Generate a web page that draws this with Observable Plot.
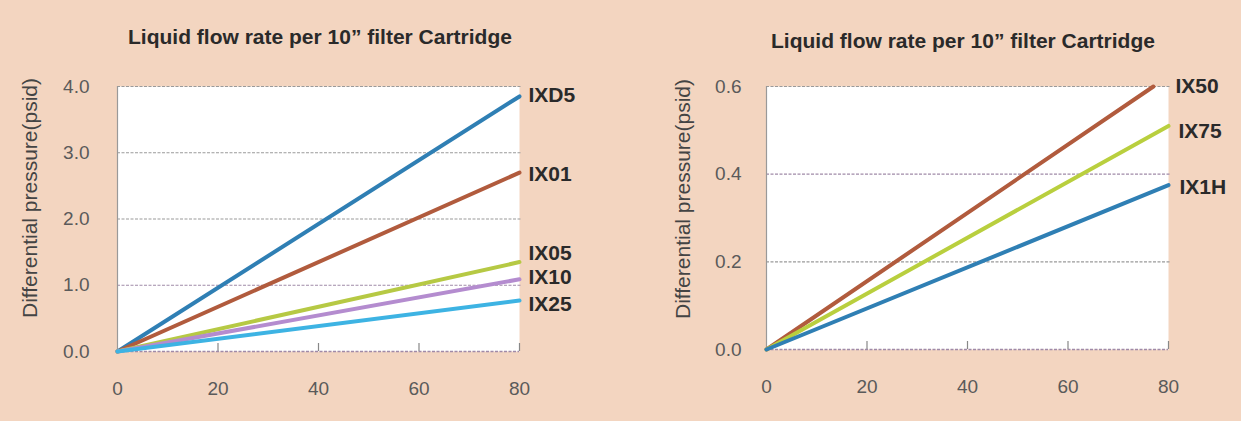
<!DOCTYPE html>
<html>
<head>
<meta charset="utf-8">
<script src="https://cdn.jsdelivr.net/npm/d3@7"></script>
<script src="https://cdn.jsdelivr.net/npm/@observablehq/plot@0.6"></script>
<style>
  html, body { margin: 0; padding: 0; }
  body { width: 1241px; height: 421px; background: #f3d5c0; position: relative; overflow: hidden; font-family: "Liberation Sans", Arial, sans-serif; }
  .title { position: absolute; font-weight: bold; font-size: 21px; color: #2a2a2a; white-space: nowrap; transform: translate(-50%, -50%); }
  .panel { position: absolute; top: 0; }
</style>
</head>
<body>
<div class="title" style="left:320px; top:37px;">Liquid flow rate per 10” filter Cartridge</div>
<div class="title" style="left:963px; top:41px;">Liquid flow rate per 10” filter Cartridge</div>
<div id="left" class="panel" style="left:0px;"></div>
<div id="right" class="panel" style="left:620px;"></div>
<script>
// ---- Data ----
const yTitle = "Differential pressure(psid)";
const xTicks = [0, 20, 40, 60, 80];

// Left chart
const leftSeries = ["IXD5", "IX01", "IX05", "IX10", "IX25"];
const leftFlow = [[0, 80], [0, 80], [0, 80], [0, 80], [0, 80]];
const leftPressure = [[0, 3.85], [0, 2.70], [0, 1.35], [0, 1.09], [0, 0.77]];
const leftYTicks = [0, 1, 2, 3, 4];

// Right chart
const rightSeries = ["IX50", "IX75", "IX1H"];
const rightFlow = [[0, 77], [0, 80], [0, 80]];
const rightPressure = [[0, 0.60], [0, 0.51], [0, 0.375]];
const rightYTicks = [0, 0.2, 0.4, 0.6];

// ---- Styles ----
const colors = {
  IXD5: "#2f7fb4", IX01: "#b15b3d", IX05: "#b6c944", IX10: "#b48ccf", IX25: "#3db3e3",
  IX50: "#b15b3d", IX75: "#b9cf3e", IX1H: "#2f7fb4"
};
const labelOffset = {
  IXD5: [9, -1], IX01: [9, 2], IX05: [9, -9], IX10: [9, -2], IX25: [9, 4],
  IX50: [22, 0], IX75: [10, 5], IX1H: [11, 2]
};

function rows(series, flow, pressure) {
  const out = [];
  series.forEach((s, i) => flow[i].forEach((f, j) => out.push({series: s, flow: f, pressure: pressure[i][j]})));
  return out;
}

function chart({series, flow, pressure, yTicks, yDomain, width, height, margins, gridColors, yTitleDx, yTitleDy, xLabelPad, yLabelPad}) {
  const data = rows(series, flow, pressure);
  const ends = series.map((s, i) => ({series: s, flow: flow[i][flow[i].length - 1], pressure: pressure[i][pressure[i].length - 1]}));
  const plotH = height - margins.top - margins.bottom;
  return Plot.plot({
    width, height,
    marginTop: margins.top, marginBottom: margins.bottom, marginLeft: margins.left, marginRight: margins.right,
    style: {background: "transparent", fontFamily: "Liberation Sans, Arial, sans-serif", overflow: "visible"},
    x: {domain: [0, 80]},
    y: {domain: yDomain},
    marks: [
      Plot.frame({fill: "white", stroke: "none"}),
      // grid lines
      ...yTicks.slice(1).map((t, i) => Plot.ruleY([t], {stroke: gridColors[i], strokeWidth: 1.2, strokeDasharray: "3,1.5", insetRight: -3})),
      // bottom axis line
      Plot.ruleY([yDomain[0]], {stroke: "#a08aa8", strokeWidth: 1.3, strokeDasharray: "3,1.5"}),
      // left border
      Plot.ruleX([0], {stroke: "#999", strokeWidth: 1.2}),
      // inner ticks
      Plot.ruleX(xTicks.slice(1), {stroke: "#888", strokeWidth: 1.2, insetTop: plotH - 8}),
      Plot.axisY({ticks: yTicks, tickSize: 0, tickPadding: yLabelPad, tickFormat: d3.format(".1f"), fontSize: 19, fill: "#5a5a5a", label: null}),
      Plot.axisX({ticks: xTicks, tickSize: 0, tickPadding: xLabelPad, tickFormat: d3.format("d"), fontSize: 19, fill: "#5a5a5a", label: null}),
      Plot.text([yTitle], {frameAnchor: "left", textAnchor: "middle", rotate: -90, dx: yTitleDx, dy: yTitleDy, fontSize: 21, fill: "#444"}),
      Plot.line(data, {x: "flow", y: "pressure", z: "series", stroke: d => colors[d.series], strokeWidth: 4, strokeLinecap: "round"}),
      ...ends.map(e => Plot.text([e], {x: "flow", y: "pressure", text: "series", textAnchor: "start", dx: labelOffset[e.series][0], dy: labelOffset[e.series][1], fontSize: 21, fontWeight: "bold", fill: "#2a2a2a"}))
    ]
  });
}

document.getElementById("left").appendChild(chart({
  series: leftSeries, flow: leftFlow, pressure: leftPressure, yTicks: leftYTicks, yDomain: [0, 4],
  width: 620, height: 421, margins: {top: 86, bottom: 70, left: 117, right: 101},
  gridColors: ["#a08aa8", "#9a9a9a", "#9a9a9a", "#9a9a9a"], yTitleDx: -87, yTitleDy: -21, xLabelPad: 30, yLabelPad: 28
}));
document.getElementById("right").appendChild(chart({
  series: rightSeries, flow: rightFlow, pressure: rightPressure, yTicks: rightYTicks, yDomain: [0, 0.6],
  width: 621, height: 421, margins: {top: 86, bottom: 72, left: 146, right: 73},
  gridColors: ["#9a9a9a", "#a08aa8", "#9a9a9a"], yTitleDx: -83, yTitleDy: -19, xLabelPad: 30, yLabelPad: 25
}));
</script>
</body>
</html>
